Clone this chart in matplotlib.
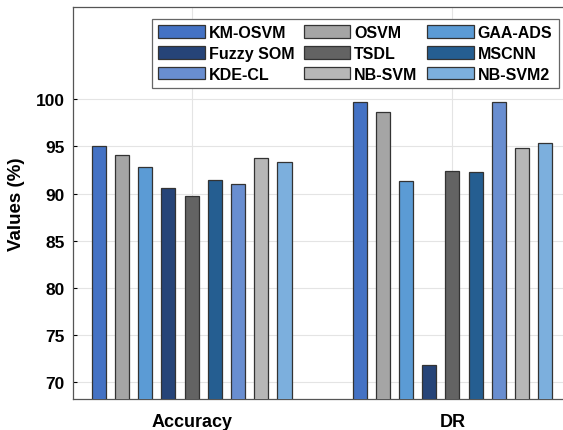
import numpy as np
from matplotlib import pyplot as plt

plt.rcParams['font.family'] = ['Liberation Sans', 'DejaVu Sans']
plt.rcParams['font.weight'] = 'bold'

groups = ['Accuracy', 'DR']
methods = ['KM-OSVM', 'OSVM', 'GAA-ADS', 'Fuzzy SOM', 'TSDL', 'MSCNN',
           'KDE-CL', 'NB-SVM', 'NB-SVM2']
accuracy = [95.1, 94.1, 92.8, 90.6, 89.75, 91.4, 91.05, 93.75, 93.35]
dr = [99.7, 98.65, 91.3, 71.8, 92.45, 92.3, 99.7, 94.8, 95.35]
colors = ['#4472C4', '#A5A5A5', '#5B9BD5', '#264478', '#636363', '#255E91',
          '#698ED0', '#B7B7B7', '#7CAFDD']

fig = plt.figure(figsize=(5.63, 4.31), dpi=100)
ax = fig.add_axes([0.1297, 0.0719, 0.8845, 0.9095])

x = np.arange(1, len(groups) + 1)
step = 0.089
width = 0.054
bars = []
for i, name in enumerate(methods):
    vals = [accuracy[i], dr[i]]
    b = ax.bar(x + (i - 4) * step, vals, width, color=colors[i],
               edgecolor='#333333', linewidth=0.9, label=name, zorder=3)
    bars.append(b)

ax.set_xlim(0.545, 2.455)
ax.set_ylim(68.2, 109.8)
ax.set_yticks([70, 75, 80, 85, 90, 95, 100])
ax.set_xticks(x)
ax.set_xticklabels(groups, fontsize=13, fontweight='bold')
ax.tick_params(axis='y', labelsize=12.5, direction='in', length=3, pad=6)
ax.tick_params(axis='x', direction='in', length=3, pad=10)
ax.set_ylabel('Values (%)', fontsize=13.5, fontweight='bold', labelpad=8)
ax.grid(True, color='#e4e4e4', linewidth=0.8, zorder=0)
for s in ax.spines.values():
    s.set_color('#555555')
    s.set_linewidth(0.9)

# legend fills column-wise, reorder so rows read like the original
order = [0, 3, 6, 1, 4, 7, 2, 5, 8]
leg = ax.legend([bars[k] for k in order], [methods[k] for k in order],
                ncol=3, loc='upper left', bbox_to_anchor=(0.27, 0.9536),
                bbox_transform=fig.transFigure, borderaxespad=0,
                prop={'size': 11.5, 'weight': 'bold'}, handlelength=2.9,
                handleheight=0.85, handletextpad=0.25, columnspacing=0.6,
                labelspacing=0.35, borderpad=0.4, fancybox=False,
                framealpha=1, edgecolor='#666666')
leg.get_frame().set_linewidth(0.9)

fig.savefig('out.png', dpi=100)
